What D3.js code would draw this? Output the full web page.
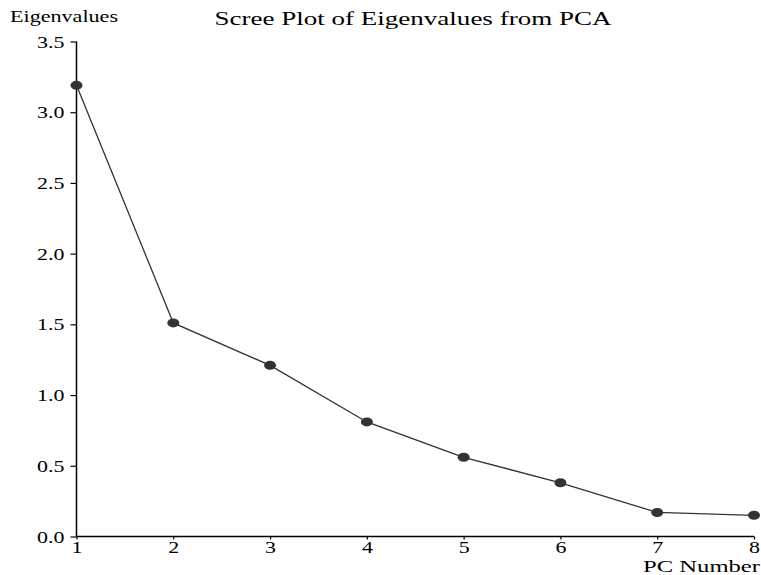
<!DOCTYPE html>
<html>
<head>
<meta charset="utf-8">
<script src="https://cdn.jsdelivr.net/npm/d3@7"></script>
<style>
  html, body { margin: 0; padding: 0; background: #fff; }
  svg { display: block; }
  text { font-family: "Liberation Serif", "Times New Roman", serif; fill: #000; }
</style>
</head>
<body>
<svg id="chart" width="761" height="575"></svg>
<script>
// Eigenvalues for each principal component
const components = [1, 2, 3, 4, 5, 6, 7, 8];
const eigenvalues = [3.19, 1.51, 1.21, 0.81, 0.56, 0.38, 0.17, 0.15];
const yTicks = [0.0, 0.5, 1.0, 1.5, 2.0, 2.5, 3.0, 3.5];
const xTicks = [1, 2, 3, 4, 5, 6, 7, 8];

const svg = d3.select("#chart");
const margin = { left: 76.5, right: 7, top: 41.5, bottom: 38.5 };
const W = 761, H = 575;

// Widen glyphs horizontally (the typeface is set wide)
function widen(sel, factor) {
  sel.each(function () {
    const w = this.getComputedTextLength();
    d3.select(this).attr("textLength", w * factor).attr("lengthAdjust", "spacingAndGlyphs");
  });
}

const x = d3.scaleLinear().domain([1, 8]).range([margin.left, W - margin.right]);
const y = d3.scaleLinear().domain([0, 3.5]).range([H - margin.bottom, margin.top]);

// Y axis
const yAxis = svg.append("g")
  .attr("transform", `translate(${margin.left},0)`)
  .call(d3.axisLeft(y).tickValues(yTicks).tickFormat(d3.format(".1f")).tickSize(6).tickPadding(6));
yAxis.select(".domain").attr("stroke", "#000").attr("stroke-width", 1.5).attr("d", `M0,${y(0)}V${y(3.5)}`);
yAxis.selectAll(".tick line").attr("stroke", "#000").attr("stroke-width", 1.2);
yAxis.selectAll(".tick text").style("font-family", "Liberation Serif, serif").style("font-size", "16px").attr("dy", "0.35em");
widen(yAxis.selectAll(".tick text"), 1.37);

// X axis
const xAxis = svg.append("g")
  .attr("transform", `translate(0,${y(0)})`)
  .call(d3.axisBottom(x).tickValues(xTicks).tickFormat(d3.format("d")).tickSize(3).tickPadding(2));
xAxis.select(".domain").attr("stroke", "#000").attr("stroke-width", 1.5).attr("d", `M${x(1)},0H${x(8)}`);
xAxis.selectAll(".tick line").attr("stroke", "#000").attr("stroke-width", 1.2);
xAxis.selectAll(".tick text").style("font-family", "Liberation Serif, serif").style("font-size", "16px");
widen(xAxis.selectAll(".tick text"), 1.37);

const data = components.map((c, i) => ({ c, v: eigenvalues[i] }));

// Connecting line
svg.append("path")
  .datum(data)
  .attr("fill", "none")
  .attr("stroke", "#333")
  .attr("stroke-width", 1.3)
  .attr("d", d3.line().x(d => x(d.c)).y(d => y(d.v)));

// Markers
svg.selectAll("ellipse.pt")
  .data(data)
  .join("ellipse")
  .attr("class", "pt")
  .attr("cx", d => x(d.c))
  .attr("cy", d => y(d.v))
  .attr("rx", 6)
  .attr("ry", 4.5)
  .attr("fill", "#333");

// Titles
svg.append("text")
  .attr("x", 413).attr("y", 25)
  .attr("text-anchor", "middle")
  .style("font-size", "19px")
  .attr("textLength", 397).attr("lengthAdjust", "spacingAndGlyphs")
  .text("Scree Plot of Eigenvalues from PCA");

svg.append("text")
  .attr("x", 10).attr("y", 22)
  .style("font-size", "16px")
  .attr("textLength", 108).attr("lengthAdjust", "spacingAndGlyphs")
  .text("Eigenvalues");

svg.append("text")
  .attr("x", 760).attr("y", 572)
  .attr("text-anchor", "end")
  .style("font-size", "17px")
  .attr("textLength", 117).attr("lengthAdjust", "spacingAndGlyphs")
  .text("PC Number");
</script>
</body>
</html>
